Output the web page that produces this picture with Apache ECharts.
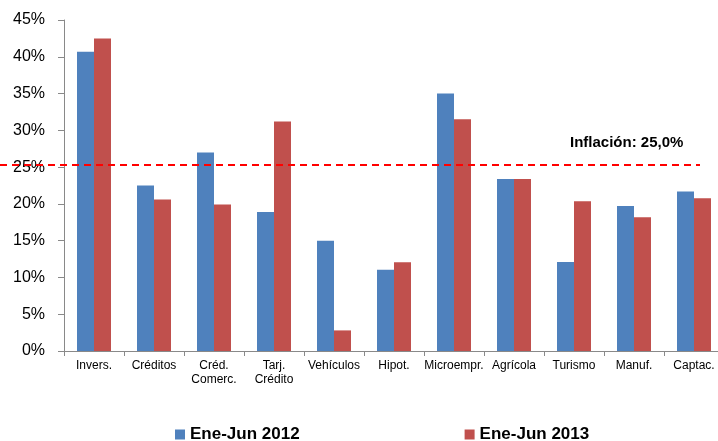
<!DOCTYPE html>
<html><head><meta charset="utf-8">
<script src="https://cdn.jsdelivr.net/npm/echarts@6/dist/echarts.min.js"></script>
<style>html,body{margin:0;padding:0;background:#fff;overflow:hidden;width:718px;height:441px}#c{width:730px;height:441px}</style>
</head><body><div id="c"></div>
<script>
var categories = ['Invers.', 'Créditos', 'Créd.\nComerc.', 'Tarj.\nCrédito', 'Vehículos', 'Hipot.', 'Microempr.', 'Agrícola', 'Turismo', 'Manuf.', 'Captac.'];
var serie2012 = [40.7, 22.5, 27.0, 18.9, 15.0, 11.05, 35.0, 23.4, 12.1, 19.7, 21.7];
var serie2013 = [42.5, 20.6, 19.9, 31.2, 2.8, 12.05, 31.5, 23.4, 20.35, 18.2, 20.75];
var inflacion = 25.3;
var inflacionLabel = 'Inflación: 25,0%';
var yTicks = [0, 5, 10, 15, 20, 25, 30, 35, 40, 45];

var chart = echarts.init(document.getElementById('c'));
var font = '"Liberation Sans", Arial, sans-serif';
chart.setOption({
  animation: false,
  textStyle: {fontFamily: font},
  grid: {left: 64, right: 6, top: 20, bottom: 90, containLabel: false},
  legend: {
    left: 170, top: 421, itemWidth: 10, itemHeight: 10, itemGap: 165,
    icon: 'rect',
    textStyle: {fontFamily: font, fontSize: 17, fontWeight: 'bold', color: '#000'},
    data: ['Ene-Jun 2012', 'Ene-Jun 2013']
  },
  xAxis: {
    type: 'category', data: categories,
    axisLine: {lineStyle: {color: '#898989', width: 1}},
    axisTick: {show: true, length: 5, inside: false, lineStyle: {color: '#898989'}},
    axisLabel: {fontSize: 12, color: '#000', margin: 8, lineHeight: 14, interval: 0}
  },
  yAxis: {
    type: 'value', min: yTicks[0], max: yTicks[yTicks.length - 1], interval: 5,
    axisLine: {show: true, lineStyle: {color: '#898989', width: 1}},
    axisTick: {show: true, length: 6, lineStyle: {color: '#898989'}},
    splitLine: {show: false},
    axisLabel: {fontSize: 16, color: '#000', margin: 19, formatter: '{value}%'}
  },
  series: [
    {name: 'Ene-Jun 2012', type: 'bar', data: serie2012, barWidth: 17, barGap: '0%',
     itemStyle: {color: '#4F81BD'}},
    {name: 'Ene-Jun 2013', type: 'bar', data: serie2013, barWidth: 17, barGap: '0%',
     itemStyle: {color: '#C0504D'}}
  ]
});
var ly = chart.convertToPixel({yAxisIndex: 0}, inflacion);
chart.setOption({
  graphic: [
    {type: 'line', z: 100, shape: {x1: 0, y1: ly, x2: 700, y2: ly},
     style: {stroke: '#FF0000', lineWidth: 2, lineDash: [7, 5]}},
    {type: 'text', z: 100, left: 570, top: ly - 30,
     style: {text: inflacionLabel, font: 'bold 15px ' + font, fill: '#000'}}
  ]
});
</script></body></html>
